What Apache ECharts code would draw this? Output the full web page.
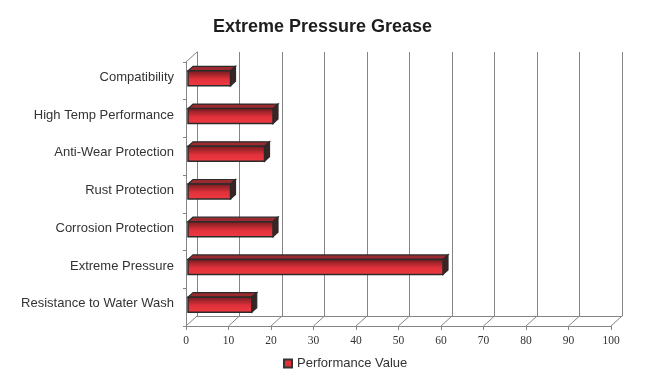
<!DOCTYPE html>
<html><head><meta charset="utf-8">
<script src="https://cdn.jsdelivr.net/npm/echarts@6/dist/echarts.min.js"></script>
<style>html,body{margin:0;padding:0;background:#fff}#c{width:645px;height:381px}</style>
</head><body><div id="c"></div>
<script>
const categories = ["Compatibility","High Temp Performance","Anti-Wear Protection","Rust Protection","Corrosion Protection","Extreme Pressure","Resistance to Water Wash"];
const values = [10, 20, 18, 10, 20, 60, 15];
const xTicks = [0,10,20,30,40,50,60,70,80,90,100];
const seriesName = "Performance Value";
const titleText = "Extreme Pressure Grease";

const DX = 11, DY = -10;
const chart = echarts.init(document.getElementById('c'), null, {renderer:'canvas'});
const lineCol = '#858585';
const option = {
  animation:false,
  backgroundColor:'#fff',
  title:{text:titleText,left:'center',top:13,textStyle:{fontFamily:'Liberation Sans',fontSize:18,fontWeight:'bold',color:'#1e1e1e'}},
  legend:{bottom:6,left:278,itemWidth:8,itemHeight:8,icon:'rect',itemGap:10,
    textStyle:{fontFamily:'Liberation Sans',fontSize:13,color:'#333'},data:[seriesName]},
  grid:[
    {left:186,right:34,top:62,bottom:55},
    {left:186+DX,right:34-DX,top:62+DY,bottom:55-DY}
  ],
  xAxis:[
    {gridIndex:0,type:'value',min:0,max:100,interval:10,
      axisLine:{show:true,lineStyle:{color:lineCol}},
      axisTick:{show:true,length:4,lineStyle:{color:lineCol}},
      axisLabel:{margin:9,fontFamily:'Liberation Serif',fontSize:11.5,color:'#333'},
      splitLine:{show:false}},
    {gridIndex:1,type:'value',min:0,max:100,interval:10,
      axisLine:{show:true,lineStyle:{color:lineCol}},
      axisTick:{show:false},axisLabel:{show:false},
      splitLine:{show:true,lineStyle:{color:lineCol,width:1}}}
  ],
  yAxis:[
    {gridIndex:0,type:'category',inverse:true,data:categories,
      axisLine:{show:true,lineStyle:{color:lineCol}},
      axisTick:{show:true,length:3,lineStyle:{color:lineCol}},
      axisLabel:{margin:12,verticalAlign:'bottom',lineHeight:7,fontFamily:'Liberation Sans',fontSize:13,color:'#333'},
      splitLine:{show:false}},
    {gridIndex:1,type:'category',inverse:true,data:categories,
      axisLine:{show:true,lineStyle:{color:lineCol}},
      axisTick:{show:false},axisLabel:{show:false},splitLine:{show:false}}
  ],
  series:[
    {type:'custom',name:'floor',xAxisIndex:0,yAxisIndex:0,clip:false,silent:true,z:1,
      data:xTicks.map(v=>[v,0]),
      renderItem:function(params,api){
        const cs = params.coordSys;
        const p = api.coord([api.value(0),0]);
        const by = cs.y+cs.height;
        const children=[{type:'line',shape:{x1:p[0],y1:by,x2:p[0]+DX,y2:by+DY},style:{stroke:lineCol,lineWidth:1}}];
        if(api.value(0)===0){
          children.push({type:'line',shape:{x1:cs.x,y1:cs.y,x2:cs.x+DX,y2:cs.y+DY},style:{stroke:lineCol,lineWidth:1}});
        }
        return {type:'group',children};
      }},
    {type:'custom',name:seriesName,xAxisIndex:0,yAxisIndex:0,clip:false,z:5,
      itemStyle:{color:'#e23038',borderColor:'#333',borderWidth:1},
      data:values.map((v,i)=>[v,i]),
      renderItem:function(params,api){
        const v=api.value(0), ci=api.value(1);
        const p0=api.coord([0,ci]), p1=api.coord([v,ci]);
        const cy=p0[1];
        const x0=p0[0]+2, x1=p1[0]+2;
        const t=cy-10, b=cy+5, dx=5, dy=-4.5;
        const stroke='#2b2b2b';
        return {type:'group',children:[
          {type:'polygon',shape:{points:[[x0,t],[x1,t],[x1+dx,t+dy],[x0+dx,t+dy]]},
            style:{fill:'#9a2a30',stroke:stroke,lineWidth:1.2}},
          {type:'polygon',shape:{points:[[x1,t],[x1+dx,t+dy],[x1+dx,b+dy],[x1,b]]},
            style:{fill:'#3a2424',stroke:stroke,lineWidth:1.2}},
          {type:'rect',shape:{x:x0,y:t,width:x1-x0,height:b-t},
            style:{fill:new echarts.graphic.LinearGradient(0,0,0,1,[
              {offset:0,color:'#6e1a1e'},{offset:0.55,color:'#e0313a'},{offset:1,color:'#f03a42'}]),
              stroke:stroke,lineWidth:1.5}}
        ]};
      }}
  ]
};
chart.setOption(option);
</script></body></html>
